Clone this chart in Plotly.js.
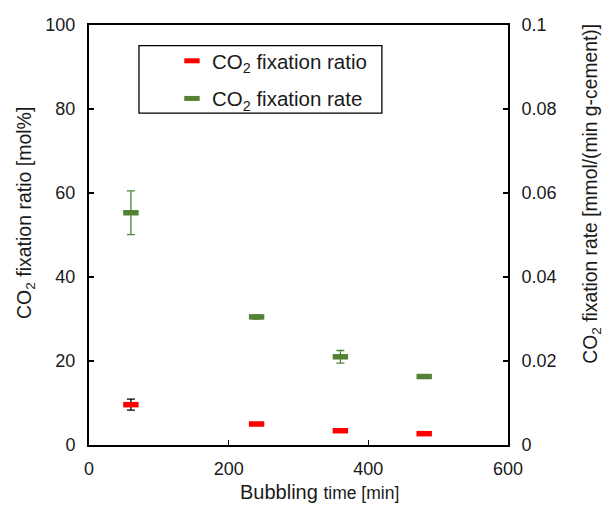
<!DOCTYPE html>
<html><head><meta charset="utf-8">
<script src="https://cdn.plot.ly/plotly-3.0.1.min.js"></script>
<style>body{margin:0;padding:0;background:#fff}#chart{width:603px;height:507px}</style>
</head><body><div id="chart"></div>
<script>
const times = [60, 240, 360, 480];
const ratio = [9.6, 5.0, 3.4, 2.7];
const ratioErr = [1.3, 0.3, 0.3, 0.4];
const rate = [0.0553, 0.0305, 0.0210, 0.0163];
const rateErr = [0.0052, 0.0005, 0.0015, 0.0003];
const xTicks = [0, 200, 400, 600];
const yTicks = [0, 20, 40, 60, 80, 100];
const y2Ticks = [0, 0.02, 0.04, 0.06, 0.08, 0.1];
const y2TickText = ['0', '0.02', '0.04', '0.06', '0.08', '0.1'];

const red = '#FF0000', green = '#548235';
const font = 'Liberation Sans, Arial, sans-serif';
const txt = '#1a1a1a';

const traces = [
  {x: times, y: ratio, type: 'scatter', mode: 'markers', name: 'CO<sub>2</sub> fixation ratio',
   legendgroup: 'a',
   marker: {symbol: 'line-ew', size: 11, color: red, line: {color: red, width: 5.5}},
   error_y: {type: 'data', array: ratioErr, visible: true, color: '#000', thickness: 1.3, width: 4}},
  {x: times, y: rate, type: 'scatter', mode: 'markers', name: 'CO<sub>2</sub> fixation rate',
   legendgroup: 'b', yaxis: 'y2',
   marker: {symbol: 'line-ew', size: 11, color: green, line: {color: green, width: 5.5}},
   error_y: {type: 'data', array: rateErr, visible: true, color: green, thickness: 1.3, width: 4}}
];

const axisCommon = {ticks: 'inside', ticklen: 5, tickwidth: 1.5, tickcolor: '#000',
  showline: true, linecolor: '#000', linewidth: 2, showgrid: false, zeroline: false,
  tickfont: {size: 18, color: txt}};

const layout = {
  width: 603, height: 507,
  margin: {l: 89, r: 95, t: 25, b: 62},
  paper_bgcolor: '#fff', plot_bgcolor: '#fff',
  font: {family: font, size: 18, color: txt},
  showlegend: true,
  legend: {x: 0.198, y: 0.962, xanchor: 'left', yanchor: 'top', bgcolor: 'rgba(0,0,0,0)',
    font: {size: 20.5, color: txt}, traceorder: 'grouped', tracegroupgap: 8, itemwidth: 30},
  xaxis: Object.assign({}, axisCommon, {range: [0, 600], tickvals: xTicks, mirror: true, ticklabelstandoff: 6}),
  yaxis: Object.assign({}, axisCommon, {range: [0, 100], tickvals: yTicks, ticklabelstandoff: 8}),
  yaxis2: Object.assign({}, axisCommon, {range: [0, 0.1], tickvals: y2Ticks, ticktext: y2TickText,
    overlaying: 'y', side: 'right', ticklabelstandoff: 8}),
  annotations: [
    {xref: 'paper', yref: 'paper', x: 0.549, y: -0.112, xanchor: 'center', yanchor: 'middle', showarrow: false,
     text: 'Bubbling <span style="font-size:17.5px">time [min]</span>', font: {size: 20, color: txt}},
    {xref: 'paper', yref: 'paper', x: -0.153, y: 0.552, xanchor: 'center', yanchor: 'middle', showarrow: false,
     textangle: -90, text: 'CO<sub>2</sub> fixation ratio [mol%]', font: {size: 19.5, color: txt}},
    {xref: 'paper', yref: 'paper', x: 1.200, y: 0.598, xanchor: 'center', yanchor: 'middle', showarrow: false,
     textangle: -90, text: 'CO<sub>2</sub> fixation rate [mmol/(min g-cement)]', font: {size: 19.3, color: txt}}
  ],
  shapes: [{type: 'rect', xref: 'paper', yref: 'paper', x0: 0.1193, x1: 0.699, y0: 0.790, y1: 0.951,
    line: {color: '#000', width: 1.3}, fillcolor: 'rgba(0,0,0,0)'}]
};

Plotly.newPlot('chart', traces, layout, {displayModeBar: false, staticPlot: true});
</script></body></html>
